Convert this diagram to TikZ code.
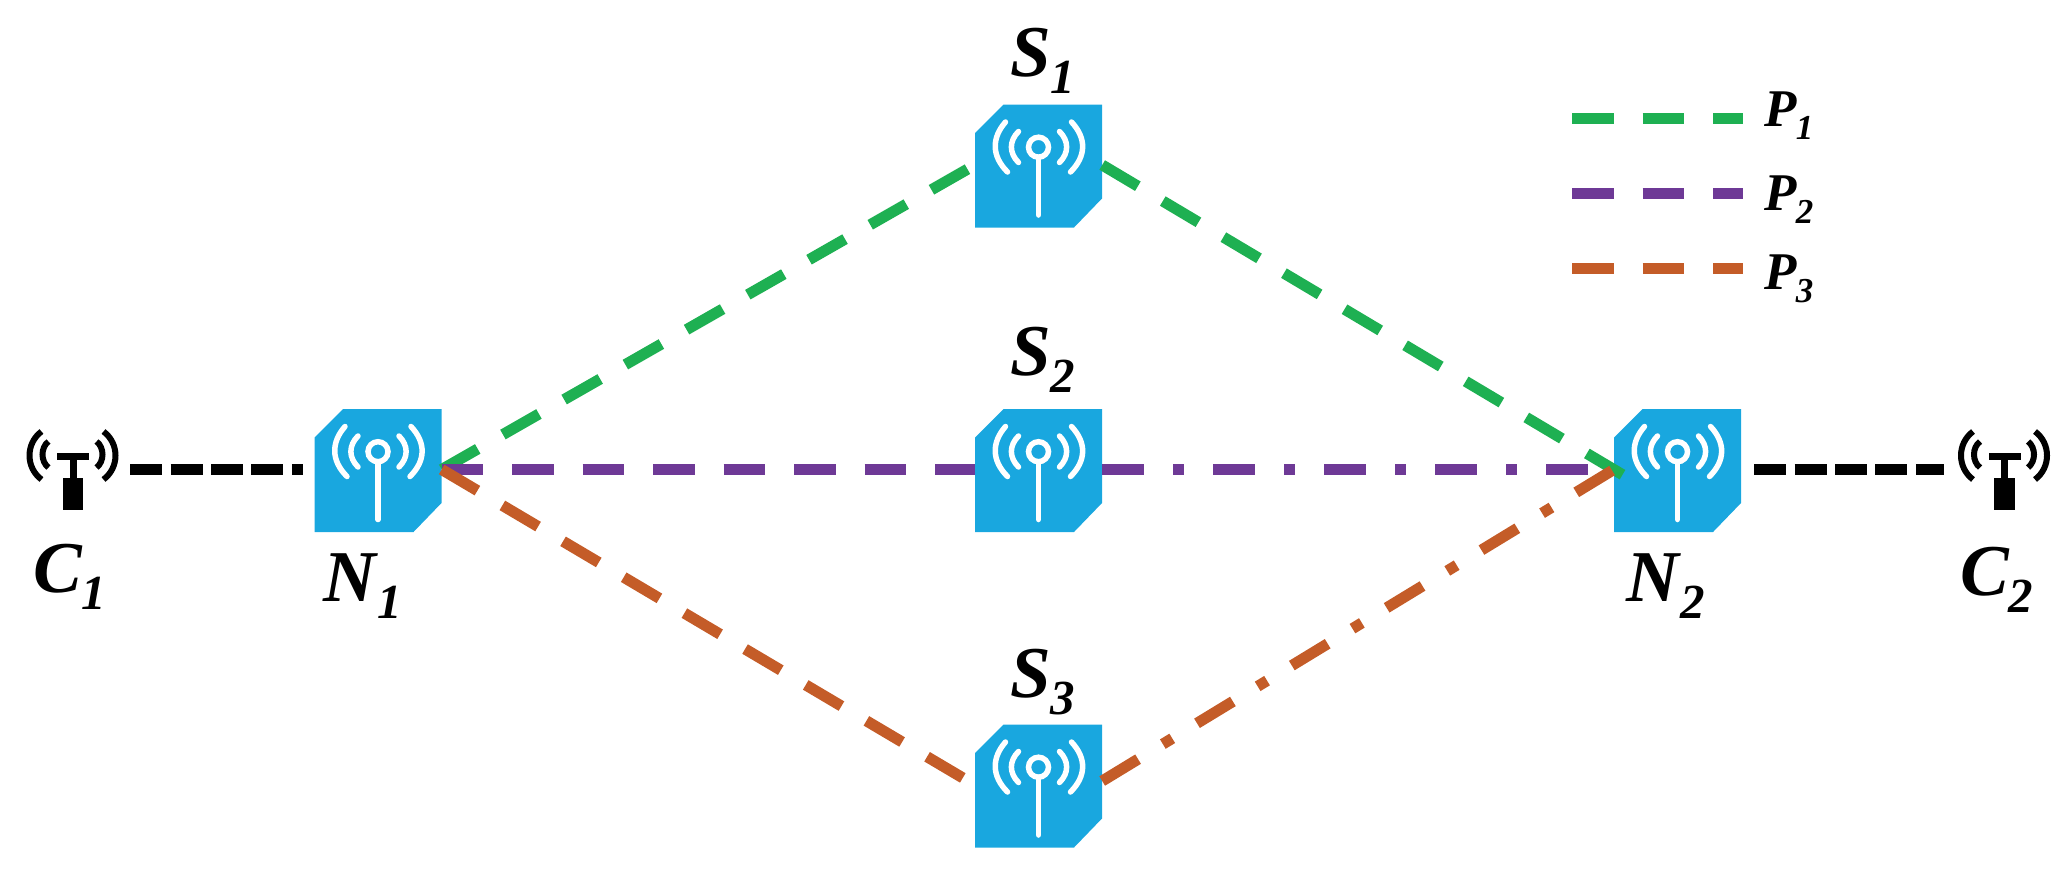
\documentclass[tikz,border=0pt]{standalone}
\usepackage{fontspec}
\setmainfont{Liberation Serif}
\definecolor{devblue}{HTML}{19A7DF}
\definecolor{pgreen}{HTML}{1EB052}
\definecolor{ppurple}{HTML}{6E3996}
\definecolor{porange}{HTML}{C45C28}
\newcommand{\biglab}[2]{\fontsize{73}{73}\selectfont\textbf{\textit{#1}}\kern-1pt\raisebox{-17pt}{\fontsize{49}{49}\selectfont\textbf{\textit{#2}}}}
\newcommand{\leglab}[2]{\fontsize{53}{53}\selectfont\textbf{\textit{#1}}\kern-1pt\raisebox{-13pt}{\fontsize{35}{35}\selectfont\textbf{\textit{#2}}}}
\tikzset{
	device/.style={minimum width=127pt,minimum height=125pt,inner sep=0pt,path picture={
		\begin{scope}[x=1pt,y=1pt]
		\fill[devblue] (-63.5,32) -- (-35,60.5) -- (63.5,60.5) -- (63.5,-33.5) -- (35.5,-62.5) -- (-63.5,-62.5) -- cycle;
		\draw[white,line width=5.5pt,line cap=round] (0,17.8) circle (10);
		\draw[white,line width=5.5pt,line cap=round] (0,7.8) -- (0,-50);
		\draw[white,line width=5.5pt,line cap=round] (-31,-7) .. controls (-47,9) and (-47,27) .. (-33,43);
		\draw[white,line width=5.5pt,line cap=round] (-20,2.5) .. controls (-29.5,12) and (-29.5,24) .. (-20,33.5);
		\draw[white,line width=5.5pt,line cap=round] (32,-7) .. controls (48,9) and (48,27) .. (33,43);
		\draw[white,line width=5.5pt,line cap=round] (21,2.5) .. controls (30.5,12) and (30.5,24) .. (21,33.5);
		\end{scope}}},
	client/.style={minimum width=92pt,minimum height=90pt,inner sep=0pt,path picture={
		\begin{scope}[x=1pt,y=1pt]
		\fill[black] (-15.5,16.8) rectangle (16.5,9.5);
		\fill[black] (-3,10) rectangle (4,-9);
		\fill[black] (-10,-8.5) rectangle (10.7,-40.2);
		\draw[black,line width=6pt] (-31,-10) .. controls (-47,2) and (-47,26) .. (-31,38);
		\draw[black,line width=6pt] (-24,2) .. controls (-32,8) and (-32,22) .. (-24,28);
		\draw[black,line width=6pt] (31,-10) .. controls (47,2) and (47,26) .. (31,38);
		\draw[black,line width=6pt] (24,2) .. controls (32,8) and (32,22) .. (24,28);
		\end{scope}}},
	lab/.style={inner sep=0pt,text height=48pt,text depth=17pt},
	leglabel/.style={inner sep=0pt,anchor=west},
	dashline/.style={line width=11pt,dash pattern=on 41.5pt off 29pt},
	dotline/.style={line width=11pt,dash pattern=on 42pt off 29pt on 11pt off 29pt},
	blackline/.style={line width=11pt,black,dash pattern=on 32pt off 8.4pt}
}
\begin{document}
\begin{tikzpicture}[x=1pt,y=-1pt]
	\useasboundingbox (0,0) rectangle (2070,873);

	 \node (N1) [device] at (378,469.5) {};
	 \node (S2) [device,node distance=660.5pt,right of=N1] {};
	 \node (S1) [device,node distance=304.5pt,above of=S2] {};
	 \node (S3) [device,node distance=315.5pt,below of=S2] {};
	 \node (N2) [device,node distance=639pt,right of=S2] {};
	 \node (C1) [client,node distance=305.5pt,left of=N1] {};
	 \node (C2) [client,node distance=326.5pt,right of=N2] {};

	 \node (C1txt) [lab,node distance=107pt,below of=C1,xshift=-3pt] {\biglab{C}{1}};
	 \node (N1txt) [lab,node distance=116pt,below of=N1,xshift=-15pt] {\biglab{N}{1}};
	 \node (N2txt) [lab,node distance=116pt,below of=N2,xshift=-12pt] {\biglab{N}{2}};
	 \node (C2txt) [lab,node distance=110pt,below of=C2,xshift=-7pt] {\biglab{C}{2}};
	 \node (S1txt) [lab,node distance=104pt,above of=S1,xshift=4pt] {\biglab{S}{1}};
	 \node (S2txt) [lab,node distance=110pt,above of=S2,xshift=4pt] {\biglab{S}{2}};
	 \node (S3txt) [lab,node distance=103pt,above of=S3,xshift=4pt] {\biglab{S}{3}};

	 \draw[blackline,shorten <=11.5pt,shorten >=11.5pt] (C1.east) -- (N1.west);
	 \draw[blackline,shorten <=13pt,shorten >=14pt] (N2.east) -- (C2.west);

	 \draw[dashline,pgreen] (N1.east) -- (S1.west);
	 \draw[dashline,pgreen,shorten >=-14pt] (S1.east) -- (N2.west);
	 \draw[dashline,ppurple] (N1.east) -- (S2.west);
	 \draw[dotline,ppurple] (S2.east) -- (N2.west);
	 \draw[dashline,porange] (N1.east) -- (S3.west);
	 \draw[dotline,porange] ([yshift=4pt]S3.east) -- (N2.west);

	 \coordinate (leg1) at (1572,118);
	 \coordinate (leg2) at (1572,193);
	 \coordinate (leg3) at (1572,268);
	 \node (P1) [leglabel] at (1764,116) {\leglab{P}{1}};
	 \node (P2) [leglabel] at (1764,200) {\leglab{P}{2}};
	 \node (P3) [leglabel] at (1764,279) {\leglab{P}{3}};
	 \draw[dashline,pgreen,shorten >=21pt] (leg1) -- (leg1 -| P1.west);
	 \draw[dashline,ppurple,shorten >=21pt] (leg2) -- (leg2 -| P2.west);
	 \draw[dashline,porange,shorten >=21pt] (leg3) -- (leg3 -| P3.west);
\end{tikzpicture}
\end{document}
